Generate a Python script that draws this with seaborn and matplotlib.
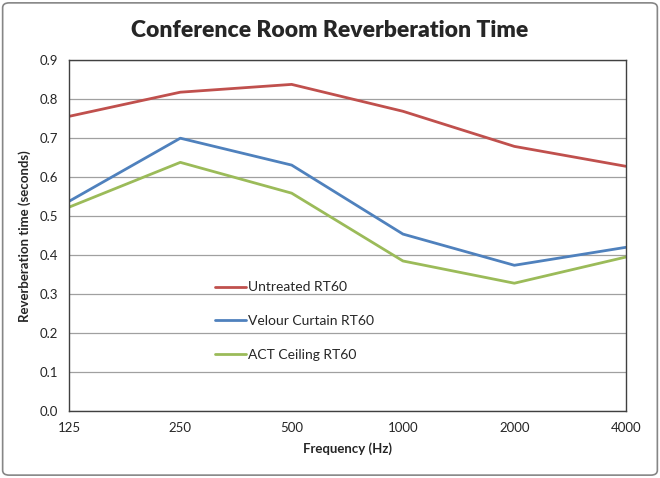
import pandas as pd
import matplotlib.pyplot as plt
import seaborn as sns
from matplotlib.patches import FancyBboxPatch

freqs = ['125', '250', '500', '1000', '2000', '4000']
untreated = [0.756, 0.818, 0.838, 0.769, 0.679, 0.628]
velour = [0.538, 0.700, 0.631, 0.454, 0.374, 0.420]
act = [0.523, 0.638, 0.559, 0.385, 0.328, 0.395]
series = ['Untreated RT60', 'Velour Curtain RT60', 'ACT Ceiling RT60']
colors = ['#C0504D', '#4F81BD', '#9BBB59']

rows = []
for name, vals in zip(series, [untreated, velour, act]):
    for i, v in enumerate(vals):
        rows.append({'pos': i, 'rt': v, 'series': name})
df = pd.DataFrame(rows)

sns.set_style('white')
plt.rcParams['font.family'] = ['Lato', 'DejaVu Sans']

fig = plt.figure(figsize=(6.6, 4.78), dpi=100)
ax = fig.add_axes([0.1045, 0.140, 0.8435, 0.734])

sns.lineplot(data=df, x='pos', y='rt', hue='series', hue_order=series,
             palette=colors, linewidth=2.0, ax=ax, legend=True)

ax.set_xlim(0, 5)
ax.set_ylim(0, 0.9)
ax.set_xticks(range(len(freqs)))
ax.set_xticklabels(freqs, fontsize=9.5)
ax.set_yticks([i / 10 for i in range(10)])
ax.set_yticklabels([f'{i / 10:.1f}' for i in range(10)], fontsize=9.5)
ax.tick_params(axis='both', direction='out', length=4, width=0.8, color='#868686', pad=4)
ax.yaxis.grid(True, color='#A0A0A0', linewidth=0.9)
ax.set_axisbelow(True)
for s in ax.spines.values():
    s.set_visible(True)
    s.set_color('#404040')
    s.set_linewidth(1.0)

ax.set_xlabel('Frequency (Hz)', fontsize=9.5, fontweight='bold', labelpad=6)
ax.set_ylabel('Reverberation time (seconds)', fontsize=9.5, fontweight='bold', labelpad=6)

leg = ax.legend(loc='upper left', bbox_to_anchor=(0.24, 0.405), frameon=False,
                fontsize=10, handlelength=2.2, handletextpad=0.2, labelspacing=1.55)

fig.text(0.5, 0.937, 'Conference Room Reverberation Time', ha='center', va='center',
         fontsize=16.5, fontweight='heavy')

border = FancyBboxPatch((0.004, 0.006), 0.992, 0.988, boxstyle='round,pad=0,rounding_size=0.01',
                        transform=fig.transFigure, fill=False, edgecolor='#868686', linewidth=1.2)
fig.patches.append(border)

fig.savefig('out.png', dpi=100)
